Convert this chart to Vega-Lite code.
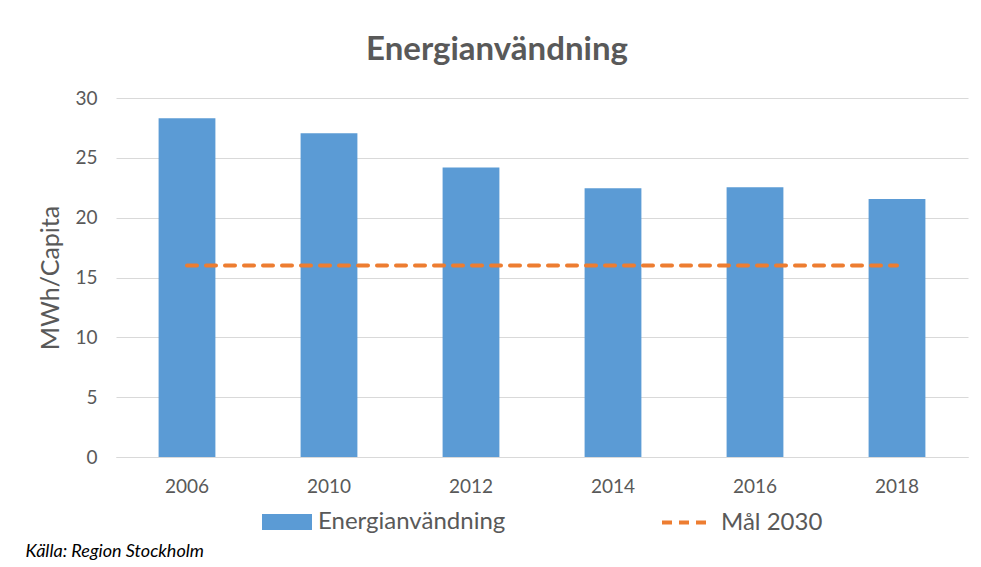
{
  "$schema": "https://vega.github.io/schema/vega-lite/v6.json",
  "width": 852,
  "height": 359,
  "autosize": "none",
  "padding": {"left": 116, "top": 98, "right": 13, "bottom": 110},
  "background": "white",
  "config": {
    "font": "Lato",
    "view": {"stroke": null},
    "axis": {"labelColor": "#595959", "titleColor": "#595959", "labelFont": "Lato", "titleFont": "Lato"}
  },
  "title": {
    "text": "Energianvändning",
    "fontSize": 33,
    "fontWeight": "bold",
    "color": "#595959",
    "font": "Lato",
    "anchor": "middle",
    "dx": -45,
    "offset": 22
  },
  "data": {
    "values": [
      {"year": "2006", "value": 28.3, "goal": 16},
      {"year": "2010", "value": 27.05, "goal": 16},
      {"year": "2012", "value": 24.2, "goal": 16},
      {"year": "2014", "value": 22.45, "goal": 16},
      {"year": "2016", "value": 22.55, "goal": 16},
      {"year": "2018", "value": 21.55, "goal": 16}
    ]
  },
  "encoding": {
    "x": {
      "field": "year",
      "type": "ordinal",
      "scale": {"paddingInner": 0.6, "paddingOuter": 0.3},
      "axis": {
        "labelAngle": 0,
        "labelFontSize": 19,
        "labelPadding": 20,
        "ticks": false,
        "domain": true,
        "domainColor": "#d9d9d9",
        "title": "Källa: Region Stockholm",
        "titleFontStyle": "italic",
        "titleFontWeight": "normal",
        "titleFontSize": 18,
        "titleColor": "#000000",
        "titleAnchor": "start",
        "titleAlign": "left",
        "titleBaseline": "alphabetic",
        "titleX": -91,
        "titleY": 99
      }
    }
  },
  "layer": [
    {
      "mark": {"type": "bar", "color": "#5b9bd5"},
      "encoding": {
        "y": {
          "field": "value",
          "type": "quantitative",
          "scale": {"domain": [0, 30]},
          "axis": {
            "values": [0, 5, 10, 15, 20, 25, 30],
            "title": "MWh/Capita",
            "titleFontSize": 25,
            "titleFontWeight": "normal",
            "titlePadding": 11,
            "labelFontSize": 19,
            "labelPadding": 19,
            "ticks": false,
            "domain": false,
            "gridColor": "#d9d9d9",
            "gridWidth": 1
          }
        },
        "fill": {
          "datum": "Energianvändning",
          "scale": {"range": ["#5b9bd5"]},
          "legend": {
            "title": null,
            "orient": "none",
            "legendX": 146,
            "legendY": 399,
            "symbolType": "M-1,-0.32H1V0.32H-1Z",
            "symbolSize": 2500,
            "symbolStrokeWidth": 0,
            "labelFontSize": 24,
            "labelLimit": 400,
            "labelColor": "#595959",
            "labelFont": "Lato",
            "labelOffset": 6
          }
        }
      }
    },
    {
      "mark": {"type": "line", "strokeWidth": 4, "strokeDash": [10, 9], "strokeCap": "round"},
      "encoding": {
        "y": {"field": "goal", "type": "quantitative"},
        "stroke": {
          "datum": "Mål 2030",
          "scale": {"range": ["#ed7d31"]},
          "legend": {
            "title": null,
            "orient": "none",
            "legendX": 544,
            "legendY": 397,
            "symbolType": "stroke",
            "symbolSize": 2601,
            "symbolStrokeWidth": 4,
            "symbolDash": [10, 7],
            "labelFontSize": 24,
            "labelLimit": 400,
            "labelColor": "#595959",
            "labelFont": "Lato",
            "labelOffset": 6
          }
        }
      }
    }
  ]
}
